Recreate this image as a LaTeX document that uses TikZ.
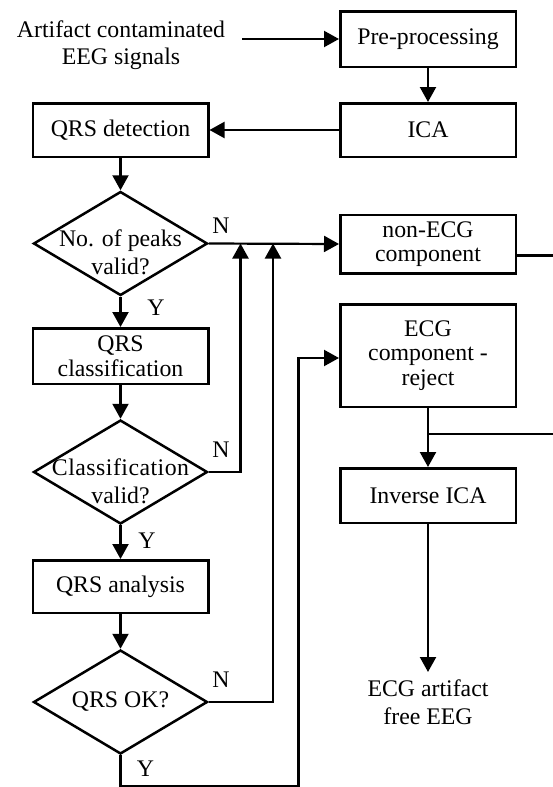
\documentclass[tikz,border=0pt]{standalone}
\usepackage{fontspec}
\setmainfont{Liberation Serif}
\usetikzlibrary{arrows.meta,shapes.geometric}
\begin{document}
\begin{tikzpicture}[x=1pt,y=-1pt,
  every node/.style={font=\fontsize{23.8}{24.5}\selectfont},
  box/.style={draw,line width=2.5pt,minimum width=175.5pt,inner sep=0pt,align=center},
  dia/.style={draw,diamond,line width=2.5pt,minimum width=174pt,minimum height=104pt,inner sep=0pt},
  txt/.style={inner sep=0pt,align=center},
  lbl/.style={inner sep=0pt},
  conn/.style={line width=2.2pt},
  arr/.style={conn,-{Triangle[length=15pt,width=16pt]}}]
\useasboundingbox (0,0) rectangle (552,787);
% nodes
\node[txt] (src) at (121,45) {Artifact contaminated\\[2pt]EEG signals};
\node[box,minimum height=55.5pt] (pre) at (428,39) {Pre-processing};
\node[box,minimum height=53.5pt] (ica) at (428,130) {ICA};
\node[box,minimum height=53.5pt] (det) at (120.5,130) {QRS detection};
\node[dia] (d1) at (120.5,243.5) {};
\node[txt] at (120.5,252.5) {No. of peaks\\[3.5pt]valid?};
\node[box,minimum height=58.5pt] (non) at (428,244) {non-ECG\\component};
\node[box,minimum height=55.5pt] (cls) at (120.5,356) {QRS\\classification};
\node[box,minimum height=102.5pt] (ecg) at (428,355.5) {ECG\\component -\\reject};
\node[dia] (d2) at (120.5,472) {};
\node[txt] at (120.5,481) {\addfontfeature{LetterSpace=2}Classification\\[3.5pt]valid?};
\node[box,minimum height=54.5pt] (inv) at (428,495.5) {Inverse ICA};
\node[box,minimum height=52.5pt] (ana) at (120.5,586.5) {QRS analysis};
\node[dia] (d3) at (120.5,702) {};
\node[txt] at (120.5,702) {QRS OK?};
\node[txt,anchor=north] (out) at (428,679.5) {ECG artifact\\[3.5pt]free EEG};
% labels
\node[lbl] at (221,226) {N};
\node[lbl] at (221,449.5) {N};
\node[lbl] at (221,679.5) {N};
\node[lbl] at (156,308) {Y};
\node[lbl] at (147,541) {Y};
\node[lbl] at (145.5,769) {Y};
% helper coordinates
\coordinate (in) at (242,39);
\coordinate (j1) at (240.5,243.5);
\coordinate (j2) at (273,243.5);
\coordinate (b1) at (298.5,786);
\coordinate (r1) at (560,255.5);
\coordinate (r2) at (560,434);
% connectors
\draw[arr] (in) -- (pre.west);
\draw[arr] (pre.south) -- (ica.north);
\draw[arr] (ica.west) -- (det.east);
\draw[arr] (det.south) -- (d1.north);
\draw[arr] (d1.east) -- (non.west);
\draw[arr] (d1.south) -- (cls.north);
\draw[arr] (cls.south) -- (d2.north);
\draw[arr] (d2.east) -| (j1);
\draw[arr] (d2.south) -- (ana.north);
\draw[arr] (ana.south) -- (d3.north);
\draw[arr] (d3.east) -| (j2);
\draw[arr] (d3.south) |- (b1) |- ([yshift=-2.5pt]ecg.west);
\draw[conn] ([yshift=-11.5pt]non.east) -- (r1) -- (r2) -- (ecg.south |- r2);
\draw[arr] (ecg.south) -- (inv.north);
\draw[arr,shorten >=7.5pt] (inv.south) -- (out.north);
\end{tikzpicture}
\end{document}
